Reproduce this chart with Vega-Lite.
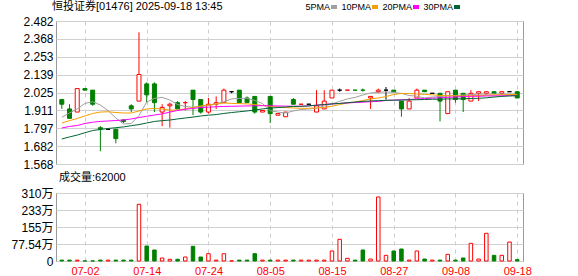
{
"$schema":"https://vega.github.io/schema/vega-lite/v6.json",
"padding":{"left":0,"top":0,"right":0,"bottom":0},
"spacing":0,
"config":{"view":{"stroke":"#999999"},"font":"Liberation Sans, Noto Sans CJK SC","title":{"font":"Liberation Sans, Noto Sans CJK SC","fontWeight":"normal","color":"#000000"},"axisY":{"labelOverlap":false}},
"resolve":{"scale":{"fill":"independent","stroke":"independent"}},
"datasets":{"k":[
{"d":"2025-06-26","o":1.98,"h":1.98,"l":1.92,"c":1.95,"v":40000,"dir":"down","5PMA":1.867,"10PMA":1.830,"20PMA":1.798,"30PMA":1.728},
{"d":"2025-06-27","o":1.92,"h":1.95,"l":1.86,"c":1.86,"v":40000,"dir":"down","5PMA":1.894,"10PMA":1.845,"20PMA":1.808,"30PMA":1.741},
{"d":"2025-06-30","o":1.90,"h":2.05,"l":1.90,"c":2.05,"v":40000,"dir":"up","5PMA":1.920,"10PMA":1.859,"20PMA":1.814,"30PMA":1.753},
{"d":"2025-07-02","o":2.05,"h":2.05,"l":2.04,"c":2.04,"v":4000,"dir":"down","5PMA":1.955,"10PMA":1.875,"20PMA":1.827,"30PMA":1.768},
{"d":"2025-07-03","o":2.04,"h":2.04,"l":1.94,"c":1.95,"v":4000,"dir":"down","5PMA":1.966,"10PMA":1.891,"20PMA":1.835,"30PMA":1.782},
{"d":"2025-07-04","o":1.80,"h":1.81,"l":1.65,"c":1.79,"v":40000,"dir":"down","5PMA":1.945,"10PMA":1.900,"20PMA":1.840,"30PMA":1.789},
{"d":"2025-07-07","o":1.79,"h":1.79,"l":1.79,"c":1.79,"v":40000,"dir":"flat","5PMA":1.909,"10PMA":1.902,"20PMA":1.843,"30PMA":1.795},
{"d":"2025-07-08","o":1.79,"h":1.79,"l":1.70,"c":1.73,"v":40000,"dir":"down","5PMA":1.862,"10PMA":1.897,"20PMA":1.846,"30PMA":1.800},
{"d":"2025-07-09","o":1.85,"h":1.85,"l":1.83,"c":1.84,"v":40000,"dir":"down","5PMA":1.824,"10PMA":1.894,"20PMA":1.849,"30PMA":1.805},
{"d":"2025-07-10","o":1.94,"h":1.95,"l":1.90,"c":1.92,"v":40000,"dir":"down","5PMA":1.827,"10PMA":1.894,"20PMA":1.856,"30PMA":1.813},
{"d":"2025-07-11","o":1.97,"h":2.41,"l":1.97,"c":2.14,"v":2586000,"dir":"up","5PMA":1.877,"10PMA":1.907,"20PMA":1.865,"30PMA":1.820},
{"d":"2025-07-14","o":2.08,"h":2.09,"l":1.96,"c":2.01,"v":684000,"dir":"down","5PMA":1.964,"10PMA":1.920,"20PMA":1.873,"30PMA":1.830},
{"d":"2025-07-15","o":2.08,"h":2.09,"l":1.90,"c":1.96,"v":502000,"dir":"down","5PMA":1.987,"10PMA":1.923,"20PMA":1.881,"30PMA":1.840},
{"d":"2025-07-16","o":1.90,"h":1.95,"l":1.81,"c":1.93,"v":137000,"dir":"up","5PMA":1.994,"10PMA":1.920,"20PMA":1.888,"30PMA":1.845},
{"d":"2025-07-17","o":1.94,"h":1.96,"l":1.80,"c":1.95,"v":78000,"dir":"up","5PMA":1.977,"10PMA":1.912,"20PMA":1.900,"30PMA":1.849},
{"d":"2025-07-18","o":1.96,"h":1.97,"l":1.92,"c":1.92,"v":78000,"dir":"down","5PMA":1.948,"10PMA":1.913,"20PMA":1.910,"30PMA":1.856},
{"d":"2025-07-21","o":1.96,"h":1.97,"l":1.91,"c":1.96,"v":182000,"dir":"up","5PMA":1.936,"10PMA":1.920,"20PMA":1.918,"30PMA":1.862},
{"d":"2025-07-22","o":2.04,"h":2.04,"l":1.88,"c":1.98,"v":670000,"dir":"down","5PMA":1.930,"10PMA":1.929,"20PMA":1.923,"30PMA":1.868},
{"d":"2025-07-23","o":1.98,"h":1.98,"l":1.89,"c":1.90,"v":182000,"dir":"down","5PMA":1.936,"10PMA":1.939,"20PMA":1.929,"30PMA":1.875},
{"d":"2025-07-24","o":1.90,"h":1.99,"l":1.89,"c":1.95,"v":334000,"dir":"up","5PMA":1.942,"10PMA":1.945,"20PMA":1.931,"30PMA":1.880},
{"d":"2025-07-25","o":1.95,"h":2.00,"l":1.92,"c":1.96,"v":40000,"dir":"up","5PMA":1.952,"10PMA":1.952,"20PMA":1.934,"30PMA":1.884},
{"d":"2025-07-28","o":1.96,"h":2.05,"l":1.96,"c":2.04,"v":330000,"dir":"up","5PMA":1.966,"10PMA":1.958,"20PMA":1.936,"30PMA":1.891},
{"d":"2025-07-29","o":2.03,"h":2.03,"l":2.02,"c":2.03,"v":4000,"dir":"flat","5PMA":1.984,"10PMA":1.955,"20PMA":1.937,"30PMA":1.897},
{"d":"2025-07-30","o":2.04,"h":2.04,"l":1.96,"c":1.96,"v":40000,"dir":"down","5PMA":1.987,"10PMA":1.954,"20PMA":1.938,"30PMA":1.902},
{"d":"2025-07-31","o":1.99,"h":2.00,"l":1.96,"c":1.96,"v":40000,"dir":"down","5PMA":1.988,"10PMA":1.952,"20PMA":1.939,"30PMA":1.907},
{"d":"2025-08-01","o":2.00,"h":2.00,"l":1.89,"c":1.90,"v":334000,"dir":"down","5PMA":1.974,"10PMA":1.948,"20PMA":1.940,"30PMA":1.913},
{"d":"2025-08-04","o":1.90,"h":1.91,"l":1.90,"c":1.91,"v":40000,"dir":"up","5PMA":1.955,"10PMA":1.942,"20PMA":1.941,"30PMA":1.920},
{"d":"2025-08-05","o":2.00,"h":2.00,"l":1.83,"c":1.89,"v":40000,"dir":"down","5PMA":1.909,"10PMA":1.937,"20PMA":1.940,"30PMA":1.925},
{"d":"2025-08-06","o":1.88,"h":1.89,"l":1.88,"c":1.89,"v":40000,"dir":"up","5PMA":1.900,"10PMA":1.932,"20PMA":1.939,"30PMA":1.929},
{"d":"2025-08-07","o":1.87,"h":1.90,"l":1.87,"c":1.90,"v":40000,"dir":"up","5PMA":1.894,"10PMA":1.929,"20PMA":1.938,"30PMA":1.932},
{"d":"2025-08-08","o":1.98,"h":1.99,"l":1.95,"c":1.95,"v":40000,"dir":"down","5PMA":1.907,"10PMA":1.926,"20PMA":1.937,"30PMA":1.936},
{"d":"2025-08-11","o":1.95,"h":1.95,"l":1.95,"c":1.95,"v":40000,"dir":"up","5PMA":1.916,"10PMA":1.924,"20PMA":1.937,"30PMA":1.937},
{"d":"2025-08-12","o":1.95,"h":1.95,"l":1.95,"c":1.95,"v":40000,"dir":"flat","5PMA":1.920,"10PMA":1.924,"20PMA":1.940,"30PMA":1.939},
{"d":"2025-08-13","o":1.90,"h":2.04,"l":1.90,"c":1.94,"v":40000,"dir":"up","5PMA":1.924,"10PMA":1.926,"20PMA":1.944,"30PMA":1.944},
{"d":"2025-08-14","o":1.92,"h":2.04,"l":1.92,"c":1.97,"v":40000,"dir":"up","5PMA":1.939,"10PMA":1.929,"20PMA":1.948,"30PMA":1.948},
{"d":"2025-08-15","o":1.99,"h":2.04,"l":1.99,"c":2.04,"v":456000,"dir":"up","5PMA":1.952,"10PMA":1.937,"20PMA":1.952,"30PMA":1.952},
{"d":"2025-08-18","o":2.04,"h":2.05,"l":2.03,"c":2.04,"v":988000,"dir":"flat","5PMA":1.968,"10PMA":1.948,"20PMA":1.955,"30PMA":1.955},
{"d":"2025-08-19","o":2.04,"h":2.04,"l":2.04,"c":2.04,"v":122000,"dir":"up","5PMA":1.984,"10PMA":1.958,"20PMA":1.958,"30PMA":1.960},
{"d":"2025-08-20","o":2.04,"h":2.04,"l":2.04,"c":2.04,"v":40000,"dir":"down","5PMA":1.994,"10PMA":1.964,"20PMA":1.961,"30PMA":1.964},
{"d":"2025-08-21","o":2.04,"h":2.05,"l":2.03,"c":2.04,"v":502000,"dir":"down","5PMA":2.009,"10PMA":1.974,"20PMA":1.963,"30PMA":1.968},
{"d":"2025-08-22","o":1.99,"h":2.00,"l":1.92,"c":2.00,"v":90000,"dir":"up","5PMA":2.022,"10PMA":1.984,"20PMA":1.966,"30PMA":1.971},
{"d":"2025-08-25","o":2.03,"h":2.05,"l":2.02,"c":2.04,"v":2920000,"dir":"up","5PMA":2.026,"10PMA":1.990,"20PMA":1.968,"30PMA":1.973},
{"d":"2025-08-26","o":2.04,"h":2.06,"l":1.98,"c":2.04,"v":258000,"dir":"flat","5PMA":2.029,"10PMA":1.999,"20PMA":1.974,"30PMA":1.975},
{"d":"2025-08-27","o":2.04,"h":2.04,"l":2.03,"c":2.03,"v":456000,"dir":"down","5PMA":2.026,"10PMA":2.012,"20PMA":1.976,"30PMA":1.976},
{"d":"2025-08-28","o":1.97,"h":1.97,"l":1.87,"c":1.92,"v":547000,"dir":"down","5PMA":2.019,"10PMA":2.019,"20PMA":1.978,"30PMA":1.977},
{"d":"2025-08-29","o":1.92,"h":1.99,"l":1.92,"c":1.97,"v":40000,"dir":"up","5PMA":2.006,"10PMA":2.019,"20PMA":1.980,"30PMA":1.978},
{"d":"2025-09-01","o":1.99,"h":2.05,"l":1.99,"c":2.04,"v":456000,"dir":"up","5PMA":2.001,"10PMA":2.015,"20PMA":1.984,"30PMA":1.979},
{"d":"2025-09-02","o":2.04,"h":2.04,"l":2.03,"c":2.03,"v":90000,"dir":"down","5PMA":1.990,"10PMA":2.013,"20PMA":1.986,"30PMA":1.980},
{"d":"2025-09-03","o":2.02,"h":2.02,"l":2.02,"c":2.02,"v":40000,"dir":"flat","5PMA":1.996,"10PMA":2.010,"20PMA":1.989,"30PMA":1.982},
{"d":"2025-09-04","o":2.02,"h":2.02,"l":1.84,"c":1.97,"v":40000,"dir":"down","5PMA":1.999,"10PMA":2.006,"20PMA":1.991,"30PMA":1.982},
{"d":"2025-09-05","o":1.89,"h":2.03,"l":1.89,"c":2.03,"v":304000,"dir":"up","5PMA":2.003,"10PMA":2.004,"20PMA":1.994,"30PMA":1.984},
{"d":"2025-09-08","o":2.04,"h":2.04,"l":1.96,"c":1.98,"v":40000,"dir":"down","5PMA":2.005,"10PMA":2.003,"20PMA":1.996,"30PMA":1.984},
{"d":"2025-09-09","o":2.02,"h":2.02,"l":1.90,"c":1.98,"v":137000,"dir":"down","5PMA":2.009,"10PMA":2.003,"20PMA":1.999,"30PMA":1.985},
{"d":"2025-09-10","o":1.97,"h":2.04,"l":1.97,"c":2.02,"v":806000,"dir":"up","5PMA":2.012,"10PMA":2.004,"20PMA":2.001,"30PMA":1.987},
{"d":"2025-09-11","o":2.02,"h":2.03,"l":1.97,"c":2.03,"v":90000,"dir":"up","5PMA":2.015,"10PMA":2.006,"20PMA":2.001,"30PMA":1.988},
{"d":"2025-09-12","o":2.02,"h":2.03,"l":2.01,"c":2.03,"v":1263000,"dir":"up","5PMA":2.015,"10PMA":2.008,"20PMA":2.003,"30PMA":1.991},
{"d":"2025-09-15","o":2.03,"h":2.03,"l":2.02,"c":2.02,"v":258000,"dir":"down","5PMA":2.015,"10PMA":2.009,"20PMA":2.003,"30PMA":1.996},
{"d":"2025-09-16","o":2.02,"h":2.03,"l":2.01,"c":2.03,"v":258000,"dir":"up","5PMA":2.015,"10PMA":2.010,"20PMA":2.004,"30PMA":2.000},
{"d":"2025-09-17","o":2.03,"h":2.03,"l":2.03,"c":2.03,"v":866000,"dir":"flat","5PMA":2.015,"10PMA":2.012,"20PMA":2.005,"30PMA":2.003},
{"d":"2025-09-18","o":2.03,"h":2.03,"l":1.99,"c":1.99,"v":62000,"dir":"down","5PMA":2.009,"10PMA":2.013,"20PMA":2.005,"30PMA":2.005}
]},
"vconcat":[
{
"width":467,"height":143,
"title":{"text":"恒投证券[01476] 2025-09-18 13:45","anchor":"start","frame":"group","fontSize":11,"offset":3,"dx":-4},
"data":{"name":"k"},
"encoding":{"x":{"field":"d","type":"ordinal","sort":null,"scale":{"type":"point","padding":0.75},
 "axis":{"title":null,"labels":false,"ticks":false,"domain":false,"grid":true,"gridColor":"#cccccc","gridDash":[4,4],"values":["2025-07-02","2025-07-14","2025-07-24","2025-08-05","2025-08-15","2025-08-27","2025-09-08","2025-09-18"],"minExtent":0,"maxExtent":0}}},
"layer":[
 {"mark":{"type":"rule","strokeWidth":1},
  "encoding":{"y":{"field":"l","type":"quantitative","scale":{"domain":[1.568,2.482],"zero":false,"nice":false},
   "axis":{"title":null,"values":[1.568,1.682,1.797,1.911,2.025,2.139,2.253,2.368,2.482],"format":".3f","ticks":false,"domain":false,"gridColor":"#d0d0d0","labelFontSize":12,"labelColor":"#000000","labelPadding":3,"labelFlush":false,"labelOverlap":false,"labelBound":false,"minExtent":55,"maxExtent":55}},
   "y2":{"field":"h"},
   "stroke":{"field":"dir","type":"nominal","scale":{"domain":["up","down","flat"],"range":["#ff0000","#008000","#000000"]},"legend":null}}},
 {"mark":{"type":"bar","size":4,"strokeWidth":1},
  "encoding":{"y":{"field":"o","type":"quantitative",
   "axis":{"title":null,"values":[1.568,1.682,1.797,1.911,2.025,2.139,2.253,2.368,2.482],"format":".3f","ticks":false,"domain":false,"gridColor":"#d0d0d0","labelFontSize":12,"labelColor":"#000000","labelPadding":3,"labelFlush":false,"labelOverlap":false,"labelBound":false,"minExtent":55,"maxExtent":55}},
   "y2":{"field":"c"},
   "fill":{"field":"dir","type":"nominal","scale":{"domain":["up","down","flat"],"range":["#ffffff","#008000","#000000"]},"legend":null},
   "stroke":{"field":"dir","type":"nominal","legend":null}}},
 {"transform":[{"fold":["5PMA","10PMA","20PMA","30PMA"],"as":["ma","val"]}],
  "mark":{"type":"line","strokeWidth":1},
  "encoding":{"y":{"field":"val","type":"quantitative",
   "axis":{"title":null,"values":[1.568,1.682,1.797,1.911,2.025,2.139,2.253,2.368,2.482],"format":".3f","ticks":false,"domain":false,"gridColor":"#d0d0d0","labelFontSize":12,"labelColor":"#000000","labelPadding":3,"labelFlush":false,"labelOverlap":false,"labelBound":false,"minExtent":55,"maxExtent":55}},
   "color":{"field":"ma","type":"nominal","scale":{"domain":["5PMA","10PMA","20PMA","30PMA"],"range":["#a0a0a0","#f5a000","#ff00ff","#006633"]},
    "legend":{"title":null,"orient":"none","legendX":273,"legendY":-19,"direction":"horizontal","symbolType":"stroke","symbolSize":36,"symbolStrokeWidth":4,"labelFontSize":9,"labelColor":"#000000","labelAlign":"right","labelOffset":-9,"columnPadding":-4}}}}
]
},
{
"width":467,"height":68,
"title":{"text":"成交量:62000","anchor":"start","frame":"group","fontSize":11,"offset":4,"dx":3},
"data":{"name":"k"},
"mark":{"type":"bar","size":3.5,"strokeWidth":1},
"encoding":{
 "x":{"field":"d","type":"ordinal","sort":null,"scale":{"type":"point","padding":0.75},
  "axis":{"title":null,"ticks":false,"domain":false,"grid":true,"gridColor":"#cccccc","gridDash":[4,4],"values":["2025-07-02","2025-07-14","2025-07-24","2025-08-05","2025-08-15","2025-08-27","2025-09-08","2025-09-18"],"labelExpr":"slice(datum.label,5)","labelAngle":0,"labelColor":"#ff0000","labelFontSize":11,"labelPadding":4,"labelOverlap":false}},
 "y":{"field":"v","type":"quantitative","scale":{"domain":[0,3101600],"nice":false},
  "axis":{"title":null,"values":[0,775400,1550800,2326200,3101600],"labelExpr":"datum.value == 0 ? '0' : (datum.value < 1000000 ? format(datum.value/10000, '.2f') : format(datum.value/10000, '.0f')) + '万'","ticks":false,"domain":false,"gridColor":"#d0d0d0","labelFontSize":12,"labelColor":"#000000","labelPadding":3,"labelFlush":false,"labelOverlap":false,"minExtent":55,"maxExtent":55}},
 "fill":{"field":"dir","type":"nominal","scale":{"domain":["up","down","flat"],"range":["#ffffff","#008000","#ffffff"]},"legend":null},
 "stroke":{"field":"dir","type":"nominal","scale":{"domain":["up","down","flat"],"range":["#ff0000","#008000","#ff0000"]},"legend":null}
}
}
]
}
